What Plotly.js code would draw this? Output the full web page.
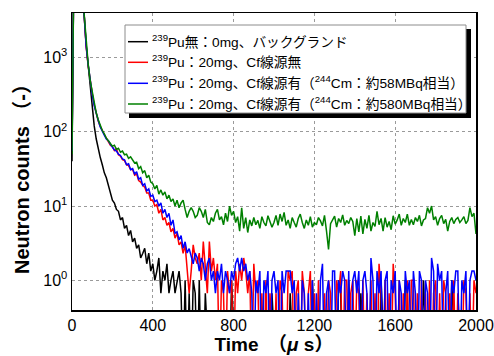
<!DOCTYPE html>
<html>
<head>
<meta charset="utf-8">
<script src="https://cdn.plot.ly/plotly-3.0.1.min.js"></script>
<style>html,body{margin:0;padding:0;background:#fff;}#chart{width:494px;height:356px;}</style>
</head>
<body>
<div id="chart"></div>
<script>
// Time bins (µs): first bin and bin width
const TIME_START = 0;
const BIN_WIDTH = 10;

const seriesNames = [
  "<sup>239</sup>Pu無：0mg、バックグランド",
  "<sup>239</sup>Pu：20mg、Cf線源無",
  "<sup>239</sup>Pu：20mg、Cf線源有（<sup>244</sup>Cm：約58MBq相当）",
  "<sup>239</sup>Pu：20mg、Cf線源有（<sup>244</sup>Cm：約580MBq相当）"
];

const xTickVals = [0, 400, 800, 1200, 1600, 2000];
const yTickVals = [1, 10, 100, 1000];
const yTickText = ["10<sup>0</sup>", "10<sup>1</sup>", "10<sup>2</sup>", "10<sup>3</sup>"];

// Neutron counts per bin (0 = no count in that bin)
const background = [
  40, 30000, 25000, 18000, 12000, 7000, 3800, 1500, 750, 420,
  230, 120, 80, 58, 45, 36, 28, 24, 19, 16,
  12, 11, 9, 8.5, 6.5, 7, 5, 5.5, 4, 4.7,
  3.3, 3.7, 2.7, 3, 2, 2.3, 2.7, 1.67, 2.33, 1.33,
  1.67, 1, 1.33, 2, 0.67, 1.33, 1, 1.67, 0.67, 1,
  1.33, 0.67, 1, 1.33, 0.67, 0, 1, 0, 0.67, 0,
  1, 0.67, 0, 1, 0, 0, 0.67, 0, 0, 0,
  0, 0, 0, 0, 0, 0, 0, 0, 0, 1,
  0, 0, 0, 0, 0, 0, 0, 0, 0, 0,
  0, 0, 0, 0, 0, 0, 0, 0, 0, 0.67,
  0, 0, 0, 0, 0, 0, 0, 0, 0.67, 0,
  0, 0, 0, 0, 0, 0, 0, 0, 0, 1,
  0, 0, 0, 0, 0, 0, 0, 0, 0, 0,
  0, 0, 1, 0.67, 0, 0, 0, 1, 0, 0,
  0, 0, 0, 0.67, 0, 0, 0, 0, 0, 0,
  0, 0, 0, 1, 0, 0, 0, 0, 0, 0,
  0, 0, 0, 0, 0, 1, 0.67, 0, 0, 0,
  0, 0, 0, 0, 1, 0, 0, 0, 0, 0,
  0, 0, 0, 0, 0, 0, 0, 0, 1, 0,
  0, 0, 0, 0, 0, 0, 0, 0, 0, 0, 0
];

const noSource = [
  60, 30000, 25000, 18000, 12000, 7000, 3800, 1400, 780, 480,
  330, 230, 175, 140, 118, 102, 92, 82, 74, 66,
  63, 56, 59, 49, 47, 42, 41, 36, 35, 31,
  31, 26, 27, 22, 21, 19, 18, 15, 15, 12,
  12, 10, 10.5, 8, 9, 6.5, 7, 5.5, 6, 4.5,
  5, 3.7, 4.3, 3, 3.3, 2.3, 3, 1.33, 0.67, 1.33,
  3, 2, 1.67, 2.33, 1, 3.33, 1.33, 0.67, 3.33, 1.33,
  2, 1, 1.67, 0, 1, 0.67, 0, 1.33, 0.67, 1,
  0, 1.33, 0.67, 1.67, 1, 2, 1.33, 0.67, 1.33, 0,
  1.67, 0.67, 1, 0, 0.67, 0, 1, 0, 0.67, 0,
  0, 0.67, 0, 1, 0.67, 0, 0, 1.33, 1, 1.33,
  0, 0.67, 1, 0, 1.33, 0.67, 0, 0.67, 1.33, 0,
  0.67, 0, 1, 0, 0, 0.67, 0, 1, 0.67, 0,
  0, 1, 0.67, 1.33, 0, 1, 1, 0, 0.67, 1,
  0, 1, 0.67, 0, 1, 0, 0.67, 0, 1, 0,
  0.67, 0, 1.67, 0.67, 0, 1, 0, 0.67, 0, 1.67,
  0.67, 0, 1, 0, 0.67, 0, 1, 0, 1, 1,
  0, 0.67, 0, 1, 0, 0.67, 0, 1, 0, 0.67,
  1, 0, 0.67, 0, 1, 0.67, 0, 0.67, 0, 1,
  0, 0.67, 0, 0, 1, 0.67, 0, 0.67, 0, 1, 0.67
];

const source58 = [
  55, 30000, 25000, 18000, 12000, 7000, 3800, 1450, 800, 470,
  320, 225, 172, 142, 116, 100, 90, 80, 76, 68,
  61, 57, 55, 50, 48, 43, 42, 36, 37, 31,
  32, 27, 29, 23, 24, 19, 20, 16, 17, 13.5,
  14, 11.5, 12, 10, 11, 8, 9, 7, 8, 5.5,
  6.5, 4.3, 4.5, 3.5, 4, 2.7, 3.3, 2.33, 2.67, 2,
  1.67, 2.33, 2, 1.33, 2, 1.67, 1, 1.67, 2, 1,
  1.33, 0.67, 1.33, 1, 1.67, 0.67, 1.33, 1, 0.67, 1.33,
  1, 1.67, 2, 1.33, 2, 1.33, 1.67, 1, 1.33, 0.67,
  0, 1, 0.67, 1.33, 0, 1, 0.67, 1.33, 0, 1,
  1.33, 0.67, 1, 0, 1.33, 0.67, 1.33, 1.33, 1.33, 0.67,
  1, 0, 0.67, 0, 1, 0.67, 0, 0.67, 0, 1,
  0, 0.67, 0, 1, 1.67, 0, 0.67, 1, 0, 1.33,
  1.33, 0, 1, 0.67, 1.33, 1, 0, 1.33, 0, 1,
  1.33, 0.67, 1.33, 0, 1, 1.33, 0.67, 0, 2, 1,
  0, 1.33, 0.67, 1.33, 0, 1, 1.33, 0, 1, 0.67,
  1.33, 0, 1, 0.67, 0, 1.33, 0.67, 1, 0, 1.33,
  0.67, 0, 1.33, 1, 0, 1, 0.67, 0, 2, 1.33,
  0, 1.67, 1, 1.33, 0, 0.67, 1.33, 0, 1, 0.67,
  1.33, 1.33, 0, 1, 0.67, 1.33, 0, 1, 1.33, 1.33, 1
];

const source580 = [
  50, 30000, 25000, 18000, 12000, 7000, 3900, 1500, 820, 490,
  340, 240, 180, 145, 120, 104, 94, 82, 76, 70,
  64, 66, 58, 60, 53, 55, 49, 50, 44, 46,
  41, 38, 39, 32, 34, 28, 30, 24, 26, 21,
  20, 17, 19, 14.5, 16.5, 14, 15.5, 12.5, 14, 11.5,
  12.5, 10, 12, 9.5, 11, 12, 9, 7, 8.5, 9.5,
  8.5, 7, 7.5, 9.5, 8.5, 7.0, 9.0, 6.0, 5.6, 7.0,
  6.2, 8.0, 9.0, 6.5, 7.2, 5.6, 8.0, 6.2, 10.0, 7.5,
  8.5, 6.0, 7.2, 4.6, 9.5, 5.0, 7.0, 4.4, 6.5, 5.4,
  7.0, 5.6, 6.4, 5.0, 7.2, 6.0, 5.4, 7.4, 6.2, 5.2,
  6.0, 7.5, 5.5, 7.8, 6.2, 8.2, 5.5, 6.5, 5.0, 7.0,
  6.0, 5.2, 6.8, 7.8, 6.0, 5.0, 6.5, 5.5, 7.2, 5.2,
  6.0, 5.6, 7.0, 6.3, 5.4, 7.5, 4.6, 2.6, 5.8, 6.5,
  7.3, 5.2, 6.8, 6.0, 7.6, 5.5, 6.4, 5.8, 7.0, 6.2,
  4.0, 6.8, 4.5, 7.3, 4.2, 6.6, 5.0, 7.5, 4.6, 6.0,
  5.3, 8.5, 5.6, 6.8, 4.6, 7.0, 5.2, 6.2, 4.8, 7.4,
  5.7, 6.5, 7.8, 5.5, 6.8, 6.0, 7.8, 5.5, 6.6, 5.6,
  7.0, 6.2, 7.5, 5.4, 6.5, 6.8, 9.5, 8.0, 10.0, 6.5,
  7.2, 5.5, 6.8, 7.5, 5.8, 6.6, 4.6, 6.2, 7.0, 5.8,
  6.6, 7.0, 6.0, 6.5, 7.2, 5.8, 6.4, 9.5, 7.2, 8.0, 4.2
];

const colors = ["#000000", "#ff0000", "#0000ff", "#008000"];
const allSeries = [background, noSource, source58, source580];

// zero counts cannot sit on a log axis: send them below the visible floor
const ZERO_FLOOR = 0.05;

const traces = allSeries.map((ys, k) => ({
  type: "scatter",
  mode: "lines",
  x0: TIME_START,
  dx: BIN_WIDTH,
  y: ys.map(v => v > 0 ? v : ZERO_FLOOR),
  name: seriesNames[k],
  line: {color: colors[k], width: 1.5},
  showlegend: false
}));

const FONT = "Arial, 'Liberation Sans', 'Noto Sans CJK JP', sans-serif";

// plot area in pixels (for placing the hand-built legend box)
const M = {l: 72, r: 18, t: 13, b: 46};
const W = 494, H = 356;
const PW = W - M.l - M.r, PH = H - M.t - M.b;
const px = v => (v - M.l) / PW;
const py = v => (H - M.b - v) / PH;

const legendBox = {x0: 125, x1: 466, y0: 25, y1: 113};
const legendRows = [41.7, 62.3, 83.3, 104];

const shapes = [
  {type: "rect", xref: "paper", yref: "paper", layer: "above",
   x0: px(legendBox.x0 + 4), x1: px(legendBox.x1 + 5), y0: py(legendBox.y1 + 5), y1: py(legendBox.y0 + 4),
   fillcolor: "#000", line: {width: 0}},
  {type: "rect", xref: "paper", yref: "paper", layer: "above",
   x0: px(legendBox.x0), x1: px(legendBox.x1), y0: py(legendBox.y1), y1: py(legendBox.y0),
   fillcolor: "#fff", line: {width: 1, color: "#8c8c8c"}}
];
const annotations = [];
legendRows.forEach((ry, k) => {
  shapes.push({type: "line", xref: "paper", yref: "paper", layer: "above",
    x0: px(128), x1: px(148), y0: py(ry), y1: py(ry),
    line: {color: colors[k], width: 1.5}});
  annotations.push({xref: "paper", yref: "paper", x: px(150), y: py(ry - 1),
    xanchor: "left", yanchor: "middle", showarrow: false,
    text: seriesNames[k], font: {family: FONT, size: 13.7, color: "#000"}});
});
annotations.push({xref: "paper", yref: "paper", x: 0, xshift: -50, y: py(174),
  xanchor: "center", yanchor: "middle", showarrow: false, textangle: -90,
  text: "<b>Neutron counts （-）</b>", font: {family: FONT, size: 20, color: "#000"}});

const layout = {
  width: W, height: H,
  margin: M,
  paper_bgcolor: "#ffffff",
  plot_bgcolor: "#ffffff",
  font: {family: FONT, color: "#000", size: 16},
  showlegend: false,
  xaxis: {
    range: [0, 2000],
    tickvals: xTickVals,
    ticks: "", showline: true, mirror: true, linecolor: "#000", linewidth: 1.5,
    showgrid: true, gridcolor: "#9a9a9a", griddash: "dot", gridwidth: 1,
    zeroline: false,
    tickfont: {size: 16},
    title: {text: "<b>Time　（<i>μ</i> s）</b>", font: {size: 19}, standoff: 4}
  },
  yaxis: {
    type: "log",
    range: [-0.4, 3.6],
    tickvals: yTickVals,
    ticktext: yTickText,
    ticks: "", showline: true, mirror: true, linecolor: "#000", linewidth: 1.5,
    showgrid: true, gridcolor: "#9a9a9a", griddash: "dot", gridwidth: 1,
    zeroline: false,
    tickfont: {size: 16}
  },
  shapes: shapes,
  annotations: annotations
};

Plotly.newPlot("chart", traces, layout, {displayModeBar: false, staticPlot: true});
</script>
</body>
</html>
